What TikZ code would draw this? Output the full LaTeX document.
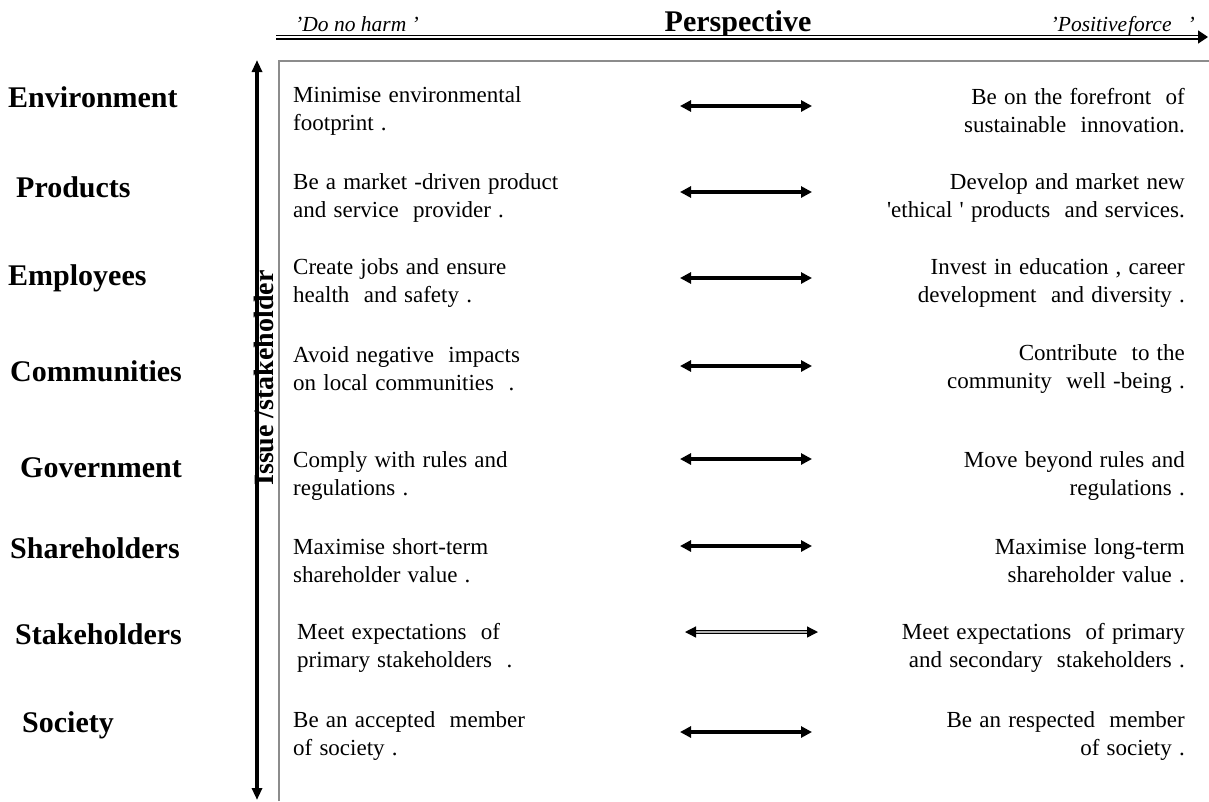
\documentclass[tikz,border=0pt]{standalone}
\usepackage{fontspec}
\setmainfont{Liberation Serif}
\newfontfamily\bodyfont[WordSpace=1.25]{Liberation Serif}
\usepackage{xcolor}
\usepackage{tikz}
\usetikzlibrary{arrows.meta}
\definecolor{boxgray}{HTML}{8C8C8C}
\tikzset{
  label/.style={anchor=base west,inner sep=0pt,font=\fontsize{30}{36}\selectfont\bfseries},
  lefttext/.style={anchor=west,inner sep=0pt,align=left,font=\bodyfont\fontsize{23}{28}\selectfont},
  righttext/.style={anchor=east,inner sep=0pt,align=right,font=\bodyfont\fontsize{23}{28}\selectfont},
  twoway/.style={line width=3.4pt,{Triangle[width=11pt,length=11pt]}-{Triangle[width=11pt,length=11pt]}},
  headtext/.style={inner sep=0pt,font=\fontsize{21.5}{26}\selectfont\itshape}
}

\begin{document}
\begin{tikzpicture}[x=1pt,y=-1pt]
  \useasboundingbox (0,0) rectangle (1209,801);
  % header
  \node[headtext,anchor=base west] (harm) at (295,31) {'Do no harm '};
  \node[inner sep=0pt,anchor=base,font=\fontsize{30}{36}\selectfont\bfseries] (persp) at (738,31) {Perspective};
  \node[headtext,anchor=base east] (force) at (1195,31) {'Positive\kern1pt force\ \ \ '};
  \coordinate (ruleL) at (276,37);
  \coordinate (ruleR) at (1208,37);
  \draw[line width=1.8pt,double=white,double distance=1.4pt,-{Triangle[width=13pt,length=10pt]}] (ruleL) -- (ruleR);
  % vertical axis and frame
  \coordinate (axisT) at (257,60);
  \coordinate (axisB) at (257,800);
  \draw[line width=3.2pt,{Triangle[width=10pt,length=12pt]}-{Triangle[width=10pt,length=12pt]}] (axisB) -- (axisT);
  \draw[boxgray,line width=1.5pt] (279,801) -- (279,61) -- (1209,61);
  \node[inner sep=0pt,rotate=90,font=\fontsize{28}{34}\selectfont\bfseries] (issue) at (264,378) {Issue /stakeholder};
  % row labels
  \node[label] (env) at (8,107) {Environment};
  \node[label] (prod) at (16,197) {Products};
  \node[label] (empl) at (8,285) {Employees};
  \node[label] (comm) at (10,381) {Communities};
  \node[label] (gov) at (20,477) {Government};
  \node[label] (share) at (10,558) {Shareholders};
  \node[label] (stake) at (15,644) {Stakeholders};
  \node[label] (soc) at (22,732) {Society};
  % 'do no harm' column
  \node[lefttext] (envA) at (293,111) {Minimise environmental\\footprint .};
  \node[lefttext] (prodA) at (293,198) {Be a market -driven product\\and service\ \ provider .};
  \node[lefttext] (emplA) at (293,283) {Create jobs and ensure\\health\ \ and safety .};
  \node[lefttext] (commA) at (293,369) {Avoid negative\ \ impacts\\on local communities\ \ .};
  \node[lefttext] (govA) at (293,476) {Comply with rules and\\regulations .};
  \node[lefttext] (shareA) at (293,561) {Maximise short-term\\shareholder value .};
  \node[lefttext] (stakeA) at (297,648) {Meet expectations\ \ of\\primary stakeholders\ \ .};
  \node[lefttext] (socA) at (293,736) {Be an accepted\ \ member\\of society .};
  % 'positive force' column
  \node[righttext] (envB) at (1185,111) {Be on the forefront\ \ of\\sustainable\ \ innovation.};
  \node[righttext] (prodB) at (1185,198) {Develop and market new\\'ethical ' products\ \ and services.};
  \node[righttext] (emplB) at (1185,283) {Invest in education , career\\development\ \ and diversity .};
  \node[righttext] (commB) at (1185,369) {Contribute\ \ to the\\community\ \ well -being .};
  \node[righttext] (govB) at (1185,476) {Move beyond rules and\\regulations .};
  \node[righttext] (shareB) at (1185,561) {Maximise long-term\\shareholder value .};
  \node[righttext] (stakeB) at (1185,648) {Meet expectations\ \ of primary\\and secondary\ \ stakeholders .};
  \node[righttext] (socB) at (1185,736) {Be an respected\ \ member\\of society .};
  % arrows between the two ends
  \coordinate (envL) at (680,106);   \coordinate (envR) at (812,106);
  \coordinate (prodL) at (680,192);  \coordinate (prodR) at (812,192);
  \coordinate (emplL) at (680,278);  \coordinate (emplR) at (812,278);
  \coordinate (commL) at (680,366);  \coordinate (commR) at (812,366);
  \coordinate (govL) at (680,459);   \coordinate (govR) at (812,459);
  \coordinate (shareL) at (680,546); \coordinate (shareR) at (812,546);
  \coordinate (stakeL) at (685,632); \coordinate (stakeR) at (818,632);
  \coordinate (socL) at (680,732);   \coordinate (socR) at (812,732);
  \draw[twoway] (envL) -- (envR);
  \draw[twoway] (prodL) -- (prodR);
  \draw[twoway] (emplL) -- (emplR);
  \draw[twoway] (commL) -- (commR);
  \draw[twoway] (govL) -- (govR);
  \draw[twoway] (shareL) -- (shareR);
  \draw[line width=1.3pt,double=gray!60,double distance=1.8pt,{Triangle[width=11pt,length=11pt]}-{Triangle[width=11pt,length=11pt]}] (stakeL) -- (stakeR);
  \draw[twoway] (socL) -- (socR);
\end{tikzpicture}
\end{document}
